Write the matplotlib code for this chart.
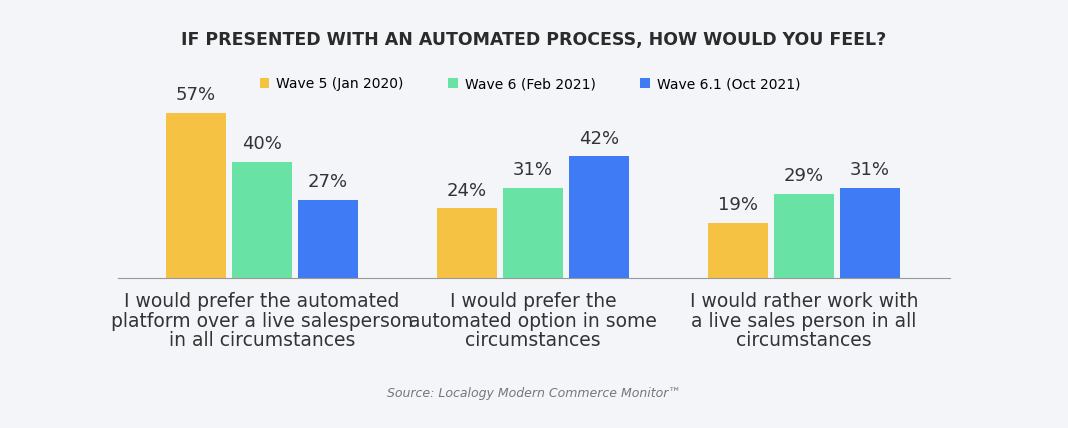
import matplotlib
matplotlib.use("Agg")
import matplotlib.pyplot as plt
import numpy as np

categories = ["I would prefer the automated\nplatform over a live salesperson\nin all circumstances",
              "I would prefer the\nautomated option in some\ncircumstances",
              "I would rather work with\na live sales person in all\ncircumstances"]
series_names = ["Wave 5 (Jan 2020)", "Wave 6 (Feb 2021)", "Wave 6.1 (Oct 2021)"]
wave5 = [57, 24, 19]
wave6 = [40, 31, 29]
wave61 = [27, 42, 31]
colors = ["#F6C244", "#68E3A5", "#3E7BF4"]
bg = "#F3F5F9"

fig = plt.figure(figsize=(10.68, 4.28), dpi=100, facecolor=bg)
ax = fig.add_axes([118/1068, 150/428, 832/1068, 218/428], facecolor=bg)
x = np.arange(len(categories))
w = 60/271
off = 66/271
for i, (vals, c, name) in enumerate(zip([wave5, wave6, wave61], colors, series_names)):
    bars = ax.bar(x + (i-1)*off, vals, w, color=c, label=name)
    for b, v in zip(bars, vals):
        ax.text(b.get_x()+b.get_width()/2, v+3, f"{v}%", ha="center", va="bottom",
                fontsize=13, color="#333333")
ax.set_xlim(-0.531, 2.539)
ax.set_ylim(0, 75.2)
for s in ["top", "right", "left"]:
    ax.spines[s].set_visible(False)
ax.spines["bottom"].set_color("#999999")
ax.set_yticks([])
ax.set_xticks(x)
ax.set_xticklabels(categories, fontsize=13.5, color="#333333", linespacing=1.05)
ax.tick_params(axis="x", length=0, pad=10)

fig.text(0.5, 1-40/428, "IF PRESENTED WITH AN AUTOMATED PROCESS, HOW WOULD YOU FEEL?",
         ha="center", va="center", fontsize=12.5, fontweight="bold", color="#2b2b2b")
fig.legend(loc="center", bbox_to_anchor=(530/1068, 1-84/428), ncol=3, frameon=False,
           fontsize=10, handlelength=0.7, handleheight=0.7, columnspacing=3.2, handletextpad=0.5)
fig.text(0.5, 1-393/428, "Source: Localogy Modern Commerce Monitor™", ha="center", va="center",
         fontsize=9, style="italic", color="#777777")
fig.savefig("out.png", dpi=100, facecolor=bg)
